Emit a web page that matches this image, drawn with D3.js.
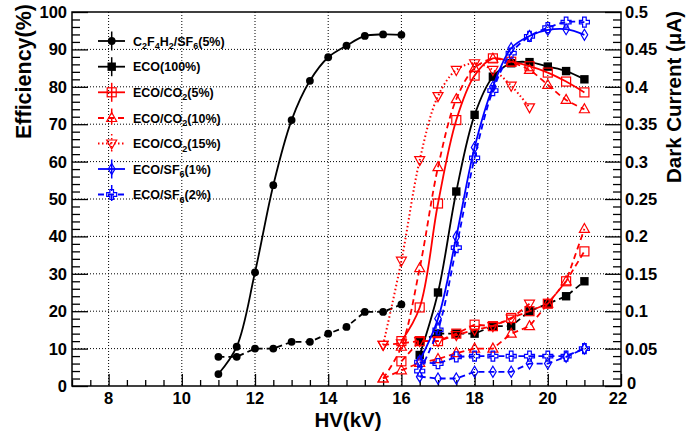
<!DOCTYPE html>
<html><head><meta charset="utf-8">
<script src="https://cdn.jsdelivr.net/npm/d3@7"></script>
<style>body{margin:0;background:#fff}svg{display:block}text{font-family:"Liberation Sans",Arial,sans-serif;font-weight:bold}</style>
</head><body>
<svg id="c" width="686" height="433"></svg>
<script>
// ---- data ----
const hvC2 = [11,11.5,12,12.5,13,13.5,14,14.5,15,15.5,16];
const effC2 = [3.2,10.5,30.4,53.7,71.1,81.6,87.9,91,93.6,94,93.9];
const dcC2 = [0.039,0.039,0.05,0.05,0.059,0.059,0.07,0.079,0.099,0.099,0.109];

const hvECO = [16.5,17,17.5,18,18.5,19,19.5,20,20.5,21];
const effECO = [8.3,25,52,72.5,82.7,86.3,86.6,85.4,84.2,82];
const dcECO = [0.06,0.07,0.07,0.07,0.08,0.08,0.1,0.11,0.12,0.14];

const hvCO2_5 = [16,16.5,17,17.5,18,18.5,19,19.5,20,20.5,21];
const effCO2_5 = [12,21,48.8,71.1,83,87.6,86.7,85.5,83.8,81.4,78.5];
const dcCO2_5 = [0.033,0.06,0.06,0.07,0.082,0.08,0.091,0.1,0.11,0.14,0.18];

const hvCO2_10 = [15.5,16,16.5,17,17.5,18,18.5,19,19.5,20,20.5,21];
const effCO2_10 = [2,10.5,31.5,58.5,76.7,85,87.5,86.5,84.5,80.5,76.5,74];
const dcCO2_10 = [0.01,0.021,0.031,0.036,0.044,0.05,0.05,0.07,0.08,0.11,0.14,0.21];

const hvCO2_15 = [15.5,16,16.5,17,17.5,18,18.5,19,19.5];
const effCO2_15 = [11,33.5,60.4,77.5,84.5,86.3,84.5,80.3,74.5];
const dcCO2_15 = [0.055,0.057,0.06,0.06,0.068,0.075,0.08,0.09,0.11];

const hvSF6 = [16.5,17,17.5,18,18.5,19,19.5,20,20.5,21];
const effSF6_1 = [6.8,18,39.9,63.8,80,90.3,93.6,95.2,95.4,93.9];
const dcSF6_1 = [0.0125,0.01,0.01,0.019,0.019,0.019,0.03,0.03,0.039,0.05];
const effSF6_2 = [4,15,37,61,79,89,93.5,95.8,97.3,97.3];
const dcSF6_2 = [0.032,0.03,0.039,0.04,0.04,0.04,0.04,0.04,0.04,0.05];

const xTicks = [8,10,12,14,16,18,20,22];
const yLTicks = [0,10,20,30,40,50,60,70,80,90,100];
const yRTicks = [0,0.05,0.1,0.15,0.2,0.25,0.3,0.35,0.4,0.45,0.5];
const yRLabels = ["0","0.05","0.1","0.15","0.2","0.25","0.3","0.35","0.4","0.45","0.5"];

// ---- layout ----
const L=72,R=621,T=12,B=386;
const svg=d3.select("#c");
const x=d3.scaleLinear().domain([7,22]).range([L,R]);
const yL=d3.scaleLinear().domain([0,100]).range([B,T]);
const yR=d3.scaleLinear().domain([0,0.5]).range([B,T]);

// grid
const g=svg.append("g");
xTicks.filter(v=>v<22).forEach(v=>g.append("line").attr("x1",x(v)).attr("x2",x(v)).attr("y1",T).attr("y2",B)
  .attr("stroke","#000").attr("stroke-width",1).attr("stroke-dasharray","1,2"));
yLTicks.filter(v=>v>0&&v<100).forEach(v=>g.append("line").attr("x1",L).attr("x2",R).attr("y1",yL(v)).attr("y2",yL(v))
  .attr("stroke","#000").attr("stroke-width",1).attr("stroke-dasharray","1,2"));

// axes with d3 axis generators (ticks inside)
const axL=svg.append("g").attr("transform",`translate(${L},0)`)
  .call(d3.axisRight(yL).tickValues(d3.range(0,100.1,2)).tickSize(8).tickFormat(""));
axL.selectAll(".tick line").filter(d=>Math.abs(d%10)<1e-6).attr("x2",16);
const axR=svg.append("g").attr("transform",`translate(${R},0)`)
  .call(d3.axisLeft(yR).tickValues(d3.range(0,0.5001,0.01)).tickSize(8).tickFormat(""));
axR.selectAll(".tick line").filter(d=>Math.abs(Math.round(d*100)%5)<1e-6).attr("x2",-16);
const axB=svg.append("g").attr("transform",`translate(0,${B})`)
  .call(d3.axisTop(x).tickValues(d3.range(7,22.01,0.5)).tickSize(6).tickFormat(""));
axB.selectAll(".tick line").filter(d=>xTicks.includes(d)).attr("y2",-12);
[axL,axR,axB].forEach(a=>{a.select(".domain").remove();a.selectAll(".tick line").attr("stroke","#000").attr("stroke-width",1.3);});
// frame
svg.append("rect").attr("x",L).attr("y",T).attr("width",R-L).attr("height",B-T).attr("fill","none").attr("stroke","#000").attr("stroke-width",1.5);

// tick labels
yLTicks.forEach(v=>svg.append("text").attr("x",67).attr("y",yL(v)+6).attr("text-anchor","end").attr("font-size",16.5).text(v));
yRTicks.forEach((v,i)=>svg.append("text").attr("x",i===0?627:625).attr("y",yR(v)+(i===0?3:6)).attr("font-size",16.5).text(yRLabels[i]));
xTicks.forEach(v=>svg.append("text").attr("x",v===22?x(v)-3:x(v)).attr("y",404).attr("text-anchor","middle").attr("font-size",16.5).text(v));

// titles
svg.append("text").attr("transform","translate(31,4) rotate(-90)").attr("text-anchor","end").attr("font-size",21.5).text("Efficiency(%)");
svg.append("text").attr("transform","translate(681,11) rotate(-90)").attr("text-anchor","end").attr("font-size",20.5).text("Dark Current (\u03bcA)");
svg.append("text").attr("x",348).attr("y",427).attr("text-anchor","middle").attr("font-size",20.5).text("HV(kV)");

// markers
function marker(sel,type,color,cx,cy){
  let p;
  switch(type){
    case "circle": return sel.append("circle").attr("cx",cx).attr("cy",cy).attr("r",3.9).attr("fill",color);
    case "fsquare": return sel.append("rect").attr("x",cx-4.2).attr("y",cy-4.2).attr("width",8.4).attr("height",8.4).attr("fill",color);
    case "osquare": return sel.append("rect").attr("x",cx-4.5).attr("y",cy-4.5).attr("width",9).attr("height",9).attr("fill","none").attr("stroke",color).attr("stroke-width",1.2);
    case "tup": p=[[0,-5.5],[5,3.5],[-5,3.5]];break;
    case "tdown": p=[[0,5.5],[5,-3.5],[-5,-3.5]];break;
    case "diamond": p=[[0,-5.5],[3.3,0],[0,5.5],[-3.3,0]];break;
    case "cross": {const a=1.8,b=5;p=[[-a,-b],[a,-b],[a,-a],[b,-a],[b,a],[a,a],[a,b],[-a,b],[-a,a],[-b,a],[-b,-a],[-a,-a]];break;}
  }
  return sel.append("path").attr("d","M"+p.map(q=>(cx+q[0])+","+(cy+q[1])).join("L")+"Z")
    .attr("fill","none").attr("stroke",color).attr("stroke-width",1.2);
}
const RED="#ff0000",BLUE="#0000ff",BLK="#000000";
const series=[
  {hv:hvC2,eff:effC2,dc:dcC2,m:"circle",c:BLK,dash:null,lbl:[["C",0],["2",1],["F",0],["4",1],["H",0],["2",1],["/SF",0],["6",1],["(5%)",0]]},
  {hv:hvECO,eff:effECO,dc:dcECO,m:"fsquare",c:BLK,dash:null,lbl:[["ECO(100%)",0]]},
  {hv:hvCO2_5,eff:effCO2_5,dc:dcCO2_5,m:"osquare",c:RED,dash:null,lbl:[["ECO/CO",0],["2",1],["(5%)",0]]},
  {hv:hvCO2_10,eff:effCO2_10,dc:dcCO2_10,m:"tup",c:RED,dash:"6,4",lbl:[["ECO/CO",0],["2",1],["(10%)",0]]},
  {hv:hvCO2_15,eff:effCO2_15,dc:dcCO2_15,m:"tdown",c:RED,dash:"1.5,2.5",lbl:[["ECO/CO",0],["2",1],["(15%)",0]]},
  {hv:hvSF6,eff:effSF6_1,dc:dcSF6_1,m:"diamond",c:BLUE,dash:null,lbl:[["ECO/SF",0],["6",1],["(1%)",0]]},
  {hv:hvSF6,eff:effSF6_2,dc:dcSF6_2,m:"cross",c:BLUE,dash:"6,4",lbl:[["ECO/SF",0],["6",1],["(2%)",0]]},
];
const plot=svg.append("g");
const effLine=d3.line().curve(d3.curveCatmullRom.alpha(0.5));
const dcLine=d3.line();
series.forEach(s=>{
  const pe=s.hv.map((h,i)=>[x(h),yL(s.eff[i])]);
  const pd=s.hv.map((h,i)=>[x(h),yR(s.dc[i])]);
  plot.append("path").attr("d",dcLine(pd)).attr("fill","none").attr("stroke",s.c).attr("stroke-width",1.8).attr("stroke-dasharray","6,4");
  plot.append("path").attr("d",effLine(pe)).attr("fill","none").attr("stroke",s.c).attr("stroke-width",s.dash&&s.dash.startsWith("1.5")?2:1.8).attr("stroke-dasharray",s.dash);
  pd.forEach(p=>marker(plot,s.m,s.c,p[0],p[1]));
  pe.forEach(p=>marker(plot,s.m,s.c,p[0],p[1]));
});

// legend
const legY=[41,66.7,92.3,118,143.5,169,194.5];
series.forEach((s,i)=>{
  const y=legY[i];
  svg.append("line").attr("x1",98).attr("x2",125).attr("y1",y).attr("y2",y).attr("stroke",s.c).attr("stroke-width",1.8).attr("stroke-dasharray",s.dash);
  svg.append("line").attr("x1",111.7).attr("x2",111.7).attr("y1",y-9.5).attr("y2",y+9.5).attr("stroke",s.c).attr("stroke-width",1.5).attr("stroke-dasharray",s.dash);
  marker(svg,s.m,s.c,111.7,y);
  const t=svg.append("text").attr("x",133).attr("y",y+4.5).attr("font-size",12.5);
  let prev=0;
  s.lbl.forEach(([str,sub])=>{
    const ts=t.append("tspan").text(str);
    if(sub){ts.attr("font-size",9).attr("dy",prev?0:3.5);prev=1;}
    else{ts.attr("dy",prev?-3.5:0);prev=0;}
  });
});
</script>
</body></html>
